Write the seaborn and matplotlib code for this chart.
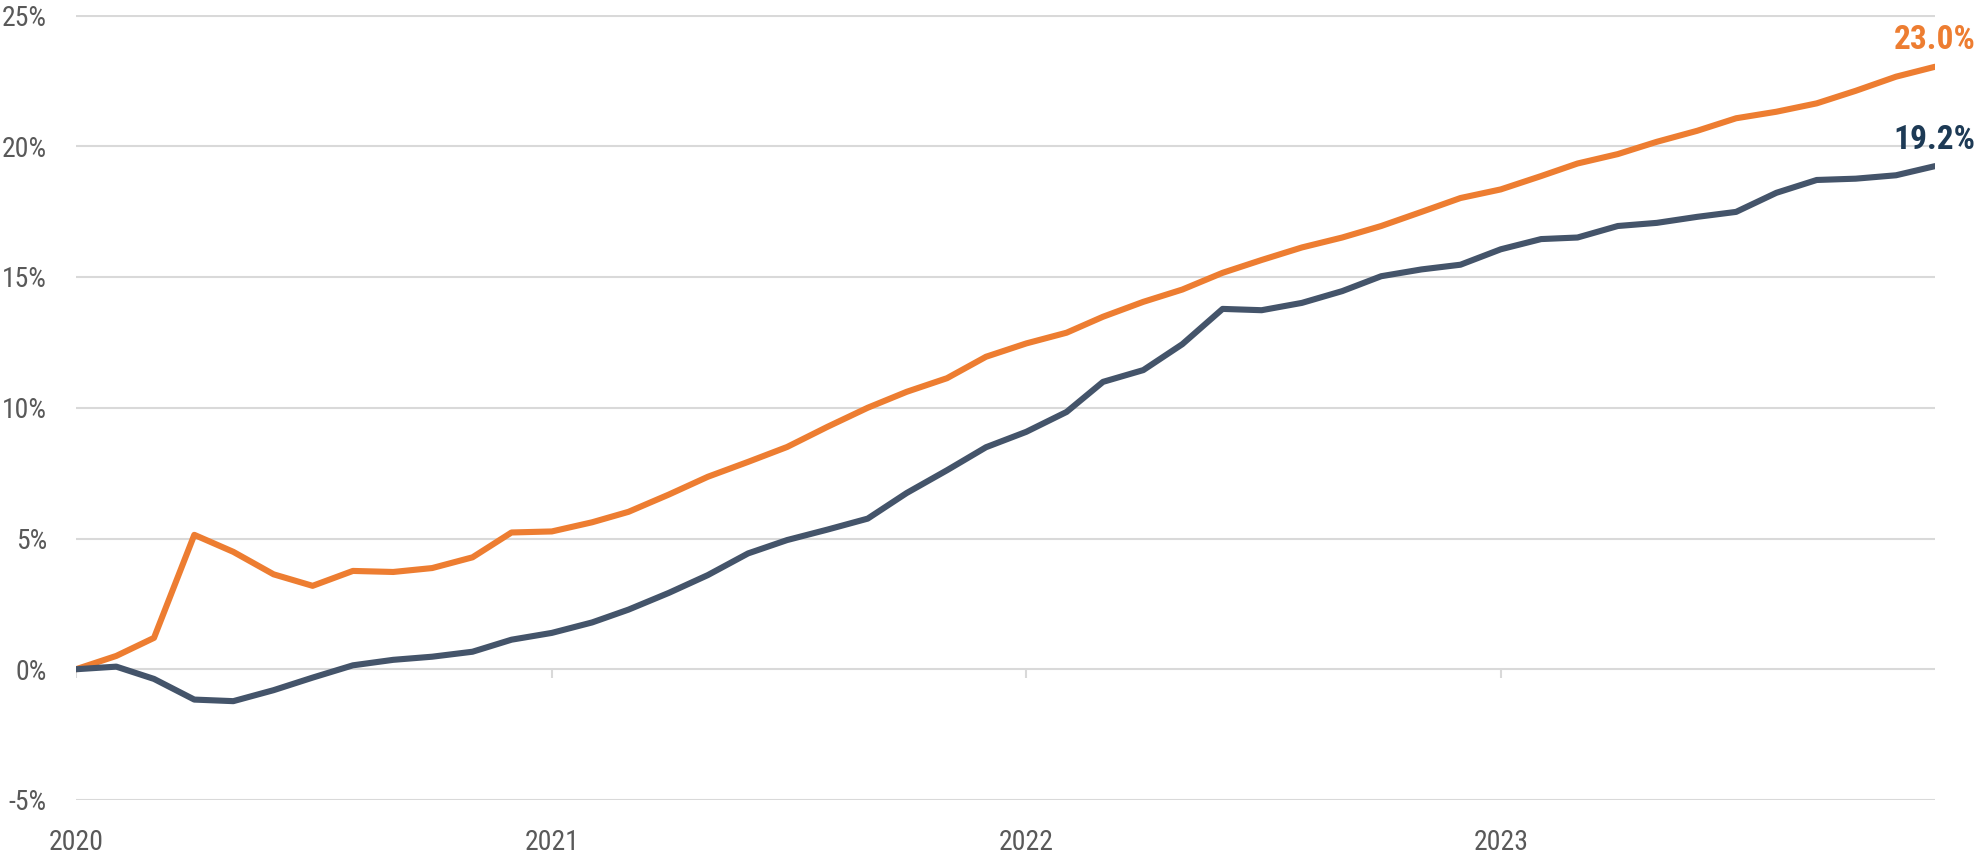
import matplotlib
matplotlib.use("Agg")
import matplotlib.pyplot as plt
import matplotlib.ticker as mticker
import seaborn as sns
import pandas as pd
import numpy as np

# ---- data (cumulative %, monthly, Jan 2020 - Dec 2023) ----
months = pd.date_range("2020-01-01", periods=48, freq="MS")

orange_series = [
    0.00, 0.51, 1.20, 5.14, 4.49, 3.63, 3.19, 3.76, 3.72, 3.87, 4.28, 5.23,
    5.27, 5.62, 6.02, 6.68, 7.36, 7.93, 8.50, 9.27, 10.00, 10.61, 11.13, 11.95,
    12.46, 12.87, 13.48, 14.05, 14.52, 15.16, 15.65, 16.13, 16.51, 16.95, 17.49, 18.02,
    18.35, 18.86, 19.34, 19.70, 20.17, 20.59, 21.07, 21.32, 21.64, 22.12, 22.66, 23.04,
]
navy_series = [
    0.00, 0.10, -0.37, -1.16, -1.22, -0.80, -0.32, 0.15, 0.36, 0.48, 0.67, 1.13,
    1.39, 1.79, 2.28, 2.92, 3.60, 4.43, 4.94, 5.34, 5.76, 6.74, 7.61, 8.49,
    9.08, 9.84, 10.99, 11.44, 12.43, 13.78, 13.73, 14.01, 14.46, 15.03, 15.29, 15.47,
    16.06, 16.45, 16.51, 16.95, 17.07, 17.30, 17.49, 18.22, 18.71, 18.76, 18.89, 19.24,
]
series_names = ["Orange series", "Navy series"]
end_labels = ["23.0%", "19.2%"]
year_ticks = pd.to_datetime(["2020-01-01", "2021-01-01", "2022-01-01", "2023-01-01"])
year_labels = ["2020", "2021", "2022", "2023"]
y_ticks = [-5, 0, 5, 10, 15, 20, 25]

line_colors = ["#ED7D31", "#44546A"]
label_colors = ["#ED7D31", "#1D3A55"]

df = pd.DataFrame({
    "date": list(months) * 2,
    "value": orange_series + navy_series,
    "series": [series_names[0]] * len(months) + [series_names[1]] * len(months),
})

sns.set_theme(style="white")
plt.rcParams["font.family"] = ["Liberation Sans Narrow", "Roboto Condensed", "DejaVu Sans"]

fig = plt.figure(figsize=(19.8, 8.58), dpi=100)
ax = fig.add_axes([76 / 1980, 1 - 800 / 858, (1935 - 76) / 1980, (800 - 15.5) / 858])

sns.lineplot(data=df, x="date", y="value", hue="series",
             palette=dict(zip(series_names, line_colors)),
             linewidth=4.4, legend=False, ax=ax, zorder=3)
for ln in ax.get_lines():
    ln.set_solid_capstyle("round")
    ln.set_solid_joinstyle("round")

ax.set_xlim(months[0], months[-1])
ax.set_ylim(-5, 25)
ax.set_yticks(y_ticks)
ax.yaxis.set_major_formatter(mticker.FuncFormatter(lambda v, p: f"{v:.0f}%"))
ax.set_xticks(year_ticks)
ax.set_xticklabels(year_labels)

ax.grid(axis="y", color="#D9D9D9", linewidth=1.5)
ax.grid(axis="x", visible=False)
ax.set_axisbelow(True)
for s in ax.spines.values():
    s.set_visible(False)

ax.tick_params(axis="y", length=0, pad=21, labelsize=20, labelcolor="#595959")
ax.tick_params(axis="x", length=0, pad=21, labelsize=20, labelcolor="#595959")

# small tick marks hanging off the zero line
ax.vlines(year_ticks, -0.35, 0, color="#D9D9D9", linewidth=1.5, zorder=1)

ax.set_xlabel("")
ax.set_ylabel("")

# end-of-line labels
for vals, txt, col, dy in zip([orange_series, navy_series], end_labels, label_colors, [8, 7]):
    ax.annotate(txt, xy=(months[-1], vals[-1]), xytext=(29, dy),
                textcoords="offset points", ha="right", va="bottom",
                fontsize=24, fontweight="bold", color=col, annotation_clip=False)

fig.savefig("out.png", dpi=100, facecolor="white")
